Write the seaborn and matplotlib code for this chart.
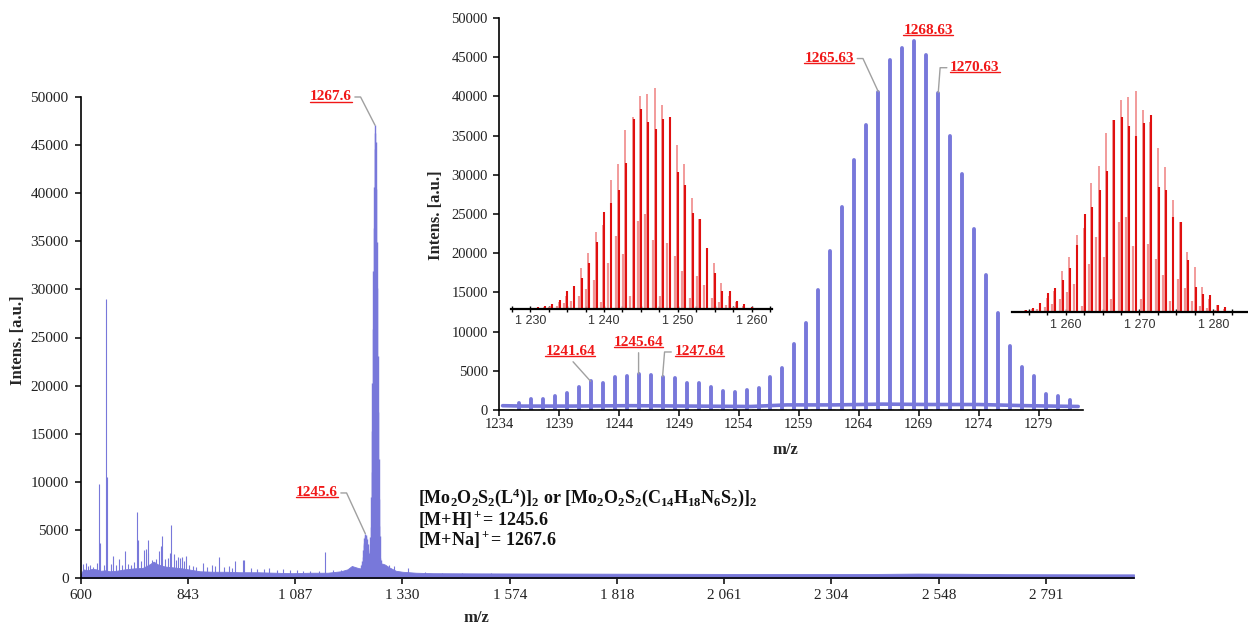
import matplotlib
matplotlib.use("Agg")
import matplotlib.pyplot as plt
from matplotlib.lines import Line2D
from matplotlib.text import Text
from matplotlib.ticker import MultipleLocator
import seaborn as sns

# ---------------- survey spectrum (600 - 3000 m/z) ----------------
survey_bg_mz = [600, 605, 615, 625, 635, 645, 655, 665, 680, 700, 720, 740, 755, 765,
                775, 790, 810, 830, 850, 870, 900, 930, 960, 1000, 1040, 1080, 1120,
                1160, 1190, 1205, 1215, 1225, 1233, 1284, 1290, 1300, 1315, 1330, 1360,
                1400, 1500, 1600, 1700, 1800, 1900, 2000, 2100, 2200, 2300, 2400, 2500,
                2600, 2700, 2800, 2900, 2991]
survey_bg_int = [400, 900, 800, 950, 900, 750, 800, 700, 750, 900, 1000, 1050, 1400, 1700,
                 1400, 1200, 1100, 1000, 850, 700, 650, 650, 600, 600, 550, 500, 550,
                 550, 700, 900, 1250, 1100, 1000, 1500, 1400, 1100, 750, 650, 550,
                 500, 480, 470, 460, 450, 440, 430, 420, 420, 410, 420, 460,
                 440, 400, 390, 380, 380]

survey_peak_mz = [604, 611, 616, 620, 628, 636, 642, 644, 652, 657.5, 658.5, 667, 673, 679,
                  685.6, 692, 700, 706, 713, 721, 728, 729, 737, 743, 748, 751.5, 753, 762,
                  770, 777, 781, 783, 790, 798, 801, 805, 811, 816, 821, 825, 829, 834, 838,
                  846, 855, 862, 876, 887, 898, 905, 914, 924, 935, 943, 950, 968, 971, 985,
                  1000, 1015, 1028, 1045, 1059, 1075, 1090, 1105, 1120, 1140, 1155, 1172,
                  1190, 1300, 1310, 1342, 1380, 1420, 1465, 1530]
survey_peak_int = [1500, 1600, 1200, 1300, 1100, 1600, 9800, 3600, 1300, 29000, 10500, 1500,
                   2300, 1400, 2000, 1300, 2800, 1500, 1400, 1700, 6900, 3900, 1800, 2900,
                   3000, 4000, 2600, 1900, 2000, 2800, 3300, 4400, 2000, 2100, 2600, 5500,
                   2500, 1900, 2200, 2100, 2200, 1800, 2300, 1300, 1200, 1100, 1600, 1100,
                   1300, 1200, 2200, 1100, 1200, 1000, 1800, 1900, 1900, 1000, 950, 900,
                   1000, 850, 900, 800, 800, 750, 700, 750, 2700, 800, 850, 1300, 1200,
                   1000, 600, 550, 500, 500]

# ---------------- measured isotope cluster ----------------
iso_mz = [1235.64, 1236.64, 1237.64, 1238.64, 1239.64, 1240.64, 1241.64, 1242.64, 1243.64,
          1244.64, 1245.64, 1246.64, 1247.64, 1248.64, 1249.64, 1250.64, 1251.64, 1252.64,
          1253.64, 1254.64, 1255.64, 1256.64, 1257.63, 1258.63, 1259.63, 1260.63, 1261.63,
          1262.63, 1263.63, 1264.63, 1265.63, 1266.63, 1267.63, 1268.63, 1269.63, 1270.63,
          1271.63, 1272.63, 1273.63, 1274.63, 1275.63, 1276.63, 1277.63, 1278.63, 1279.63,
          1280.63, 1281.63]
iso_int = [850, 1360, 1450, 1790, 2200, 2900, 3660, 3400, 4170, 4340, 4600, 4470, 4250,
           4080, 3490, 3490, 2980, 2470, 2300, 2550, 2850, 4250, 5320, 8380, 11060, 15300,
           20320, 25850, 31890, 36350, 40600, 44640, 46220, 47070, 45280, 40480, 34950,
           30100, 23040, 17220, 12420, 8210, 5440, 4340, 2040, 1830, 1280]
iso_bg_mz = [1234.3, 1236, 1240, 1245, 1250, 1255, 1258, 1262, 1266, 1270, 1274, 1278, 1282.3]
iso_bg_int = [550, 500, 500, 550, 500, 450, 650, 650, 750, 700, 700, 550, 450]

# ---------------- simulated isotope patterns (relative abundance, %) ----------------
sim_h_mz = [1231, 1232, 1233, 1234, 1235, 1236, 1237, 1238, 1239, 1240, 1241, 1242, 1243,
            1244, 1245, 1246, 1247, 1248, 1249, 1250, 1251, 1252, 1253, 1254, 1255, 1256,
            1257, 1258, 1259, 1260]
sim_h_main = [0.8, 1.2, 2.1, 4.1, 8.3, 10.4, 13.9, 20.7, 30.5, 44.1, 47.9, 53.9, 66.0, 86.1,
              90.6, 84.6, 81.6, 86.1, 86.9, 61.9, 56.2, 43.4, 40.6, 27.5, 16.2, 8.3, 8.3,
              3.6, 2.1, 0.8]
sim_h_alt = [0.5, 0.9, 1.5, 3.0, 6.0, 9.1, 18.6, 25.2, 34.7, 37.8, 58.5, 65.7, 81.1, 86.9,
             96.2, 97.4, 100, 92.4, 86.1, 74.3, 65.7, 50.2, 40.6, 27.5, 20.7, 11.6, 6.0,
             3.0, 1.5, 0.5]
sim_h_minor = [0.3, 0.5, 0.8, 1.5, 2.5, 3.5, 6, 9, 13, 3, 21, 33, 25, 6, 40, 43, 31, 6, 30,
               24, 17, 5, 15, 11, 5, 3, 2, 1, 0.5, 0.3]

sim_na_mz = [1253.6, 1254.6, 1255.6, 1256.6, 1257.6, 1258.6, 1259.6, 1260.6, 1261.6, 1262.6,
             1263.6, 1264.6, 1265.6, 1266.6, 1267.6, 1268.6, 1269.6, 1270.6, 1271.6, 1272.6,
             1273.6, 1274.6, 1275.6, 1276.6, 1277.6, 1278.6, 1279.6, 1280.6, 1281.6, 1282.6]
sim_na_main = [0.8, 1.2, 2.1, 4.1, 8.6, 10.8, 14.6, 19.9, 30.4, 44.3, 47.7, 55.3, 64.0, 86.9,
               88.4, 84.3, 79.8, 85.4, 89.2, 56.8, 55.3, 43.2, 40.7, 23.6, 11.6, 8.3, 7.8,
               3.3, 2.3, 0.8]
sim_na_alt = [0.5, 0.9, 1.5, 3.5, 6.5, 9.5, 18.7, 25.2, 34.9, 38.0, 58.3, 66.1, 81.2, 87.0,
              95.9, 97.4, 100, 91.4, 86.0, 74.1, 65.8, 50.8, 41.0, 27.4, 20.6, 11.6, 6.2,
              3.3, 1.5, 0.5]
sim_na_minor = [0.3, 0.5, 0.8, 1.5, 2.6, 3.6, 6, 9, 13, 3, 22, 34, 25, 6, 41, 43, 30, 6, 31,
                24, 17, 5, 15, 11, 5, 3, 2, 1, 0.5, 0.3]

# ---------------- axis ticks and labels ----------------
survey_xticks = [600, 843, 1087, 1330, 1574, 1818, 2061, 2304, 2548, 2791]
survey_xticklabels = ["600", "843", "1 087", "1 330", "1 574", "1 818", "2 061", "2 304",
                      "2 548", "2 791"]
iso_xticks = [1234, 1239, 1244, 1249, 1254, 1259, 1264, 1269, 1274, 1279]
sim_h_ticks = [1230, 1240, 1250, 1260]
sim_h_ticklabels = ["1 230", "1 240", "1 250", "1 260"]
sim_na_ticks = [1260, 1270, 1280]
sim_na_ticklabels = ["1 260", "1 270", "1 280"]

survey_peak_labels = ["1267.6", "1245.6"]

formula_lines = [
    r"[Mo$\mathbf{_2}$O$\mathbf{_2}$S$\mathbf{_2}$(L$\mathbf{^4}$)]$\mathbf{_2}$ or "
    r"[Mo$\mathbf{_2}$O$\mathbf{_2}$S$\mathbf{_2}$(C$\mathbf{_{14}}$H$\mathbf{_{18}}$"
    r"N$\mathbf{_6}$S$\mathbf{_2}$)]$\mathbf{_2}$",
    r"[M+H]$\mathbf{^+}$= 1245.6",
    r"[M+Na]$\mathbf{^+}$= 1267.6",
]

# ---------------- style ----------------
BLUE = "#7878DA"
RED_DARK = "#E01010"
RED_LIGHT = "#F08A8A"
LABEL_RED = "#F01818"
LEADER = "#A0A0A0"

sns.set_theme(style="ticks")
plt.rcParams.update({
    "font.family": ["Liberation Serif", "DejaVu Serif"],
    "mathtext.fontset": "custom",
    "mathtext.rm": "Liberation Serif:bold",
    "mathtext.bf": "Liberation Serif:bold",
    "mathtext.it": "Liberation Serif:bold:italic",
    "axes.linewidth": 1.2,
    "axes.edgecolor": "black",
    "xtick.color": "black",
    "ytick.color": "black",
    "xtick.labelcolor": "#222222",
    "ytick.labelcolor": "#222222",
})

W, H = 1248, 625
fig = plt.figure(figsize=(W / 100, H / 100), dpi=100)
fig.patch.set_facecolor("white")


def frame(left, top, right, bottom):
    return [left / W, 1 - bottom / H, (right - left) / W, (bottom - top) / H]


# ---------------- survey spectrum ----------------
ax = fig.add_axes(frame(81, 97, 1134, 578))
ax.fill_between(survey_bg_mz, 0, survey_bg_int, color=BLUE, lw=0.6, edgecolor=BLUE)
ax.vlines(survey_peak_mz, 0, survey_peak_int, color=BLUE, lw=0.8)
ax.vlines(iso_mz, 0, iso_int, color=BLUE, lw=1.0)
ax.set_xlim(600, 2991)
ax.set_ylim(0, 50000)
ax.set_xticks(survey_xticks)
ax.set_xticklabels(survey_xticklabels)
ax.set_yticks(range(0, 50001, 5000))
ax.tick_params(axis="both", direction="out", length=4, width=1.1, labelsize=11)
ax.tick_params(axis="x", pad=4)
ax.tick_params(axis="y", pad=5)
sns.despine(ax=ax)
ax.set_xlabel("m/z", fontsize=12, fontweight="bold")
ax.xaxis.set_label_coords(0.375, -0.083)
ax.xaxis.label.set_va("center")
ax.set_ylabel("Intens. [a.u.]", fontsize=12, fontweight="bold")
ax.yaxis.set_label_coords(-0.0598, 0.495)
ax.yaxis.label.set_va("center")
ax.patch.set_alpha(0)

red_texts = []
lbl_kw = dict(color=LABEL_RED, fontsize=11, fontweight="bold", zorder=10)


def leader_props(relpos, conn):
    return dict(arrowstyle="-", color=LEADER, lw=1.0, relpos=relpos,
                connectionstyle=conn, shrinkA=0, shrinkB=0)


arm_right = "arc,angleA=0,armA=9,angleB=0,armB=0,rad=0"
arm_left = "arc,angleA=180,armA=10,angleB=0,armB=0,rad=0"

t = ax.annotate(survey_peak_labels[0], xy=(1267.6, max(iso_int)), xytext=(1214.4, 50000),
                ha="right", va="center", arrowprops=leader_props((1, 0.5), arm_right), **lbl_kw)
red_texts.append(t)
t = ax.annotate(survey_peak_labels[1], xy=(1245.64, iso_int[iso_mz.index(1245.64)]),
                xytext=(1182.6, 8840), ha="right", va="center",
                arrowprops=leader_props((1, 0.5), arm_right), **lbl_kw)
red_texts.append(t)

for line, ypos in zip(formula_lines, [0.157, 0.1112, 0.0676]):
    ax.text(0.32, ypos, line, transform=ax.transAxes, fontsize=13, fontweight="bold",
            ha="left", va="baseline", color="#111111")

# ---------------- measured cluster (blue inset) ----------------
axi = fig.add_axes(frame(499, 18, 1083, 410))
axi.patch.set_alpha(0)
sns.lineplot(x=iso_bg_mz, y=iso_bg_int, ax=axi, color=BLUE, lw=2.6)
axi.vlines(iso_mz, 0, iso_int, color=BLUE, lw=2.8, capstyle="round")
axi.axhline(60, color="black", lw=1.0, ls=(0, (4, 3)), zorder=3)
axi.set_xlim(1234, 1282.7)
axi.set_ylim(0, 50000)
axi.set_xticks(iso_xticks)
axi.set_yticks(range(0, 50001, 5000))
axi.tick_params(axis="both", direction="out", length=4, width=1.1, labelsize=10.5)
axi.tick_params(axis="x", pad=2)
axi.tick_params(axis="y", pad=4)
sns.despine(ax=axi)
axi.set_xlabel("m/z", fontsize=12, fontweight="bold")
axi.xaxis.set_label_coords(0.491, -0.102)
axi.xaxis.label.set_va("center")
axi.set_ylabel("Intens. [a.u.]", fontsize=12, fontweight="bold")
axi.yaxis.set_label_coords(-0.108, 0.497)
axi.yaxis.label.set_va("center")


def iso_val(label):
    return iso_int[iso_mz.index(float(label))]


straight = "arc3,rad=0"
specs = [
    ("1241.64", (1239.93, 7400), "center", "center", (0.5, 0), straight),
    ("1245.64", (1245.64, 8550), "center", "center", (0.5, 0), straight),
    ("1247.64", (1248.64, 7400), "left", "center", (0, 0.5), arm_left),
    ("1265.63", (1263.6, 44830), "right", "center", (1, 0.5), arm_right),
    ("1270.63", (1271.62, 43660), "left", "center", (0, 0.5), arm_left),
]
for lab, pos, ha, va, relpos, conn in specs:
    t = axi.annotate(lab, xy=(float(lab), iso_val(lab)), xytext=pos, ha=ha, va=va,
                     arrowprops=leader_props(relpos, conn), **lbl_kw)
    red_texts.append(t)
t = axi.text(1269.78, 48380, "1268.63", ha="center", va="center", **lbl_kw)
red_texts.append(t)


# ---------------- simulated patterns (red insets) ----------------
def sim_panel(rect, mz, main, alt, minor, xlim, top, ticks, ticklabels):
    a = fig.add_axes(rect)
    a.patch.set_alpha(0)
    a.vlines([m - 0.42 for m in mz], 0, minor, color=RED_LIGHT, lw=1.6, alpha=0.9)
    a.vlines([m - 0.12 for m in mz], 0, alt, color=RED_LIGHT, lw=1.2)
    a.vlines(mz, 0, main, color=RED_DARK, lw=1.5)
    a.set_xlim(*xlim)
    a.set_ylim(0, top)
    a.set_yticks([])
    for s in ("left", "right", "top"):
        a.spines[s].set_visible(False)
    a.spines["bottom"].set_linewidth(1.6)
    a.set_xticks(ticks)
    a.set_xticklabels(ticklabels, fontfamily="Liberation Sans")
    a.xaxis.set_minor_locator(MultipleLocator(2.5))
    a.tick_params(axis="x", which="both", direction="inout", length=5, width=1.0,
                  labelsize=9, pad=2, labelcolor="#333333")
    a.tick_params(axis="x", which="minor", length=4)
    return a


sim_panel(frame(511, 80, 772, 309), sim_h_mz, sim_h_main, sim_h_alt, sim_h_minor,
          (1227.4, 1262.75), 103.6, sim_h_ticks, sim_h_ticklabels)
sim_panel(frame(1011.7, 84, 1248, 312.3), sim_na_mz, sim_na_main, sim_na_alt, sim_na_minor,
          (1252.7, 1284.7), 103.2, sim_na_ticks, sim_na_ticklabels)

# ---------------- underline the red peak labels ----------------
fig.canvas.draw()
renderer = fig.canvas.get_renderer()
inv = fig.transFigure.inverted()
for t in red_texts:
    bb = Text.get_window_extent(t, renderer)
    y = bb.y0 + 2.0
    (x0, yy), (x1, _) = inv.transform([(bb.x0, y), (bb.x1, y)])
    fig.add_artist(Line2D([x0, x1], [yy, yy], color=LABEL_RED, lw=1.0))

fig.savefig("out.png", dpi=100, facecolor="white")
